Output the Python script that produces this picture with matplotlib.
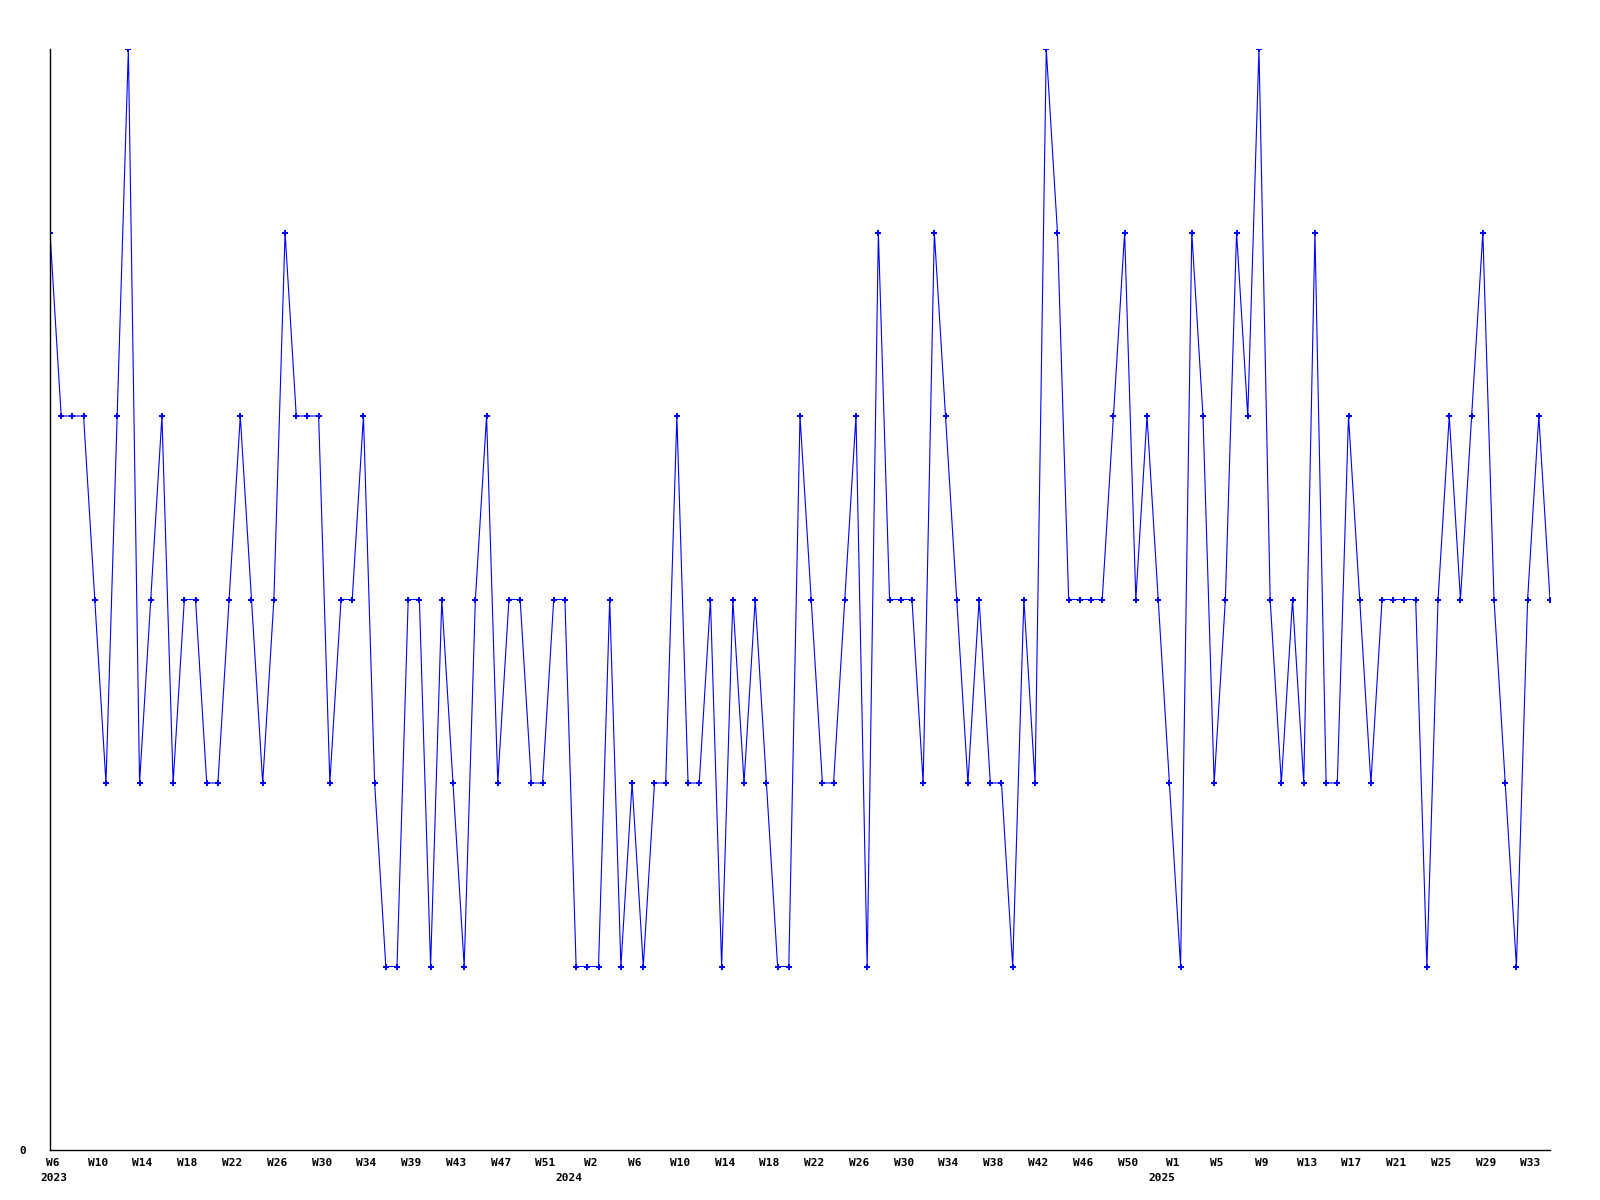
import matplotlib
matplotlib.use("Agg")
import matplotlib.pyplot as plt
from matplotlib.transforms import ScaledTranslation

values = [
    5, 4, 4, 4, 3, 2, 4, 6, 2, 3,
    4, 2, 3, 3, 2, 2, 3, 4, 3, 2,
    3, 5, 4, 4, 4, 2, 3, 3, 4, 2,
    1, 1, 3, 3, 1, 3, 2, 1, 3, 4,
    2, 3, 3, 2, 2, 3, 3, 1, 1, 1,
    3, 1, 2, 1, 2, 2, 4, 2, 2, 3,
    1, 3, 2, 3, 2, 1, 1, 4, 3, 2,
    2, 3, 4, 1, 5, 3, 3, 3, 2, 5,
    4, 3, 2, 3, 2, 2, 1, 3, 2, 6,
    5, 3, 3, 3, 3, 4, 5, 3, 4, 3,
    2, 1, 5, 4, 2, 3, 5, 4, 6, 3,
    2, 3, 2, 5, 2, 2, 4, 3, 2, 3,
    3, 3, 3, 1, 3, 4, 3, 4, 5, 3,
    2, 1, 3, 4, 3,
]

tick_labels = ["W6", "W10", "W14", "W18", "W22", "W26", "W30", "W34", "W39",
               "W43", "W47", "W51", "W2", "W6", "W10", "W14", "W18", "W22",
               "W26", "W30", "W34", "W38", "W42", "W46", "W50", "W1", "W5",
               "W9", "W13", "W17", "W21", "W25", "W29", "W33"]
tick_step = 4
year_labels = ["2023", "2024", "2025"]
year_positions = [0, 46, 99]

plt.rcParams['font.family'] = ['DejaVu Sans Mono']
plt.rcParams['font.weight'] = 'bold'

fig = plt.figure(figsize=(16, 12), dpi=100)
ax = fig.add_axes([50/1600, 50/1200, 1500/1600, 1101/1200])

x = list(range(len(values)))
ax.plot(x, values, color=(0, 0, 1), linewidth=0.8, marker='P', markersize=3.8,
        markeredgewidth=0, markerfacecolor=(0, 0, 1))

ax.set_xlim(0, len(values) - 1)
ax.set_ylim(0, 6)

for s in ['top', 'right']:
    ax.spines[s].set_visible(False)
for s in ['left', 'bottom']:
    ax.spines[s].set_linewidth(1.0)
    ax.spines[s].set_color('black')

ax.set_yticks([0])
ax.set_yticklabels(["0"], fontsize=8, fontweight='bold')
ax.tick_params(axis='y', length=0, pad=17)

ax.set_xticks([i * tick_step for i in range(len(tick_labels))])
ax.set_xticklabels(tick_labels, fontsize=8, fontweight='bold')
ax.tick_params(axis='x', length=0, pad=6)
shift = ScaledTranslation(3 / 100, 0, fig.dpi_scale_trans)
for lbl in ax.get_xticklabels():
    lbl.set_transform(lbl.get_transform() + shift)

for lab, pos in zip(year_labels, year_positions):
    ax.annotate(lab, xy=(pos, 0), xycoords=('data', 'axes fraction'),
                xytext=(2.5, -16.5), textcoords='offset points',
                ha='center', va='top', fontsize=8, fontweight='bold')

fig.savefig("out.png", dpi=100)
